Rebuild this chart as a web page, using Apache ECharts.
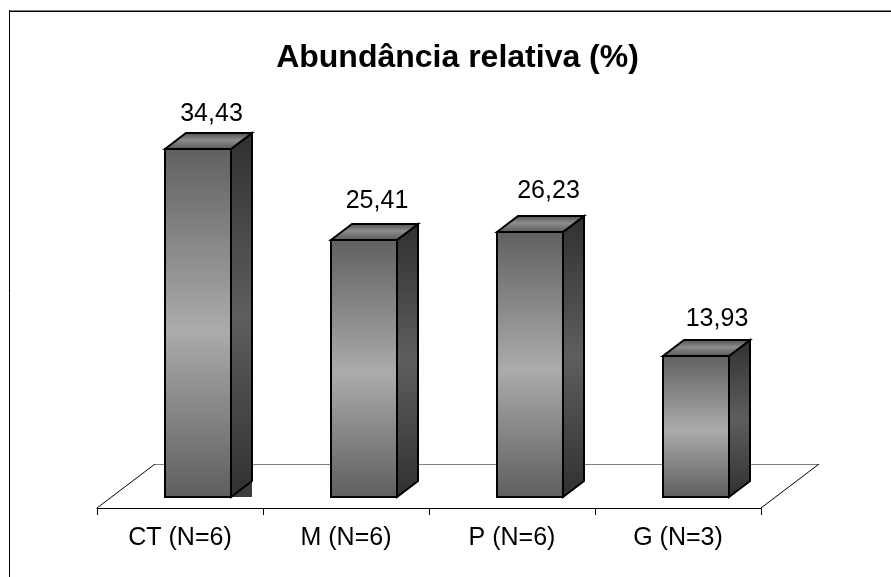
<!DOCTYPE html>
<html>
<head>
<meta charset="utf-8">
<style>html,body{margin:0;padding:0;background:#fff}#c{width:891px;height:577px}</style>
<script src="https://cdn.jsdelivr.net/npm/echarts@6/dist/echarts.min.js"></script>
</head>
<body>
<div id="c"></div>
<script>
const titleText = 'Abundância relativa (%)';
const categories = ['CT (N=6)', 'M (N=6)', 'P (N=6)', 'G (N=3)'];
const values = [34.43, 25.41, 26.23, 13.93];
const valueLabels = ['34,43', '25,41', '26,23', '13,93'];
const shadowWedge = [1, 0, 0, 0];

const FONT = '"Liberation Sans", Arial, sans-serif';
const BAR_W = 66, DEPTH_X = 21, DEPTH_Y = 16, BAR_SHIFT = 15;
const FLOOR_X = 58, FLOOR_Y = 44;

function vgrad(a, b, c, mid) {
  return {type: 'linear', x: 0, y: 0, x2: 0, y2: 1, colorStops: [
    {offset: 0, color: a}, {offset: mid, color: b}, {offset: 1, color: c}]};
}
const chart = echarts.init(document.getElementById('c'), null, {renderer: 'canvas'});

function renderFloor(params, api) {
  const cs = params.coordSys;
  const x0 = cs.x, x1 = cs.x + cs.width, y0 = cs.y + cs.height;
  const line = (a, b, c, d, color) => ({type: 'line', shape: {x1: a, y1: b, x2: c, y2: d},
    style: {stroke: color, lineWidth: 1}});
  return {type: 'group', children: [
    line(x0, y0, x0 + FLOOR_X, y0 - FLOOR_Y, '#000'),
    line(x0 + FLOOR_X, y0 - FLOOR_Y + 0.5, x1 + FLOOR_X, y0 - FLOOR_Y + 0.5, '#808080'),
    line(x1, y0, x1 + FLOOR_X, y0 - FLOOR_Y, '#000')
  ]};
}

function renderBar(params, api) {
  const i = api.value(0);
  const labelDx = [13.5, 13, 18.5, 21][i];
  const labelDy = [-34.5, -39, -41, -37][i];
  const top = api.coord([i, api.value(1)]);
  const base = api.coord([i, 0]);
  const x = Math.round(top[0] - BAR_SHIFT), w = BAR_W;
  const yT = Math.round(top[1]), yB = Math.round(base[1]);
  const border = {stroke: '#000', lineWidth: 2, lineJoin: 'miter'};
  const children = [];
  if (shadowWedge[i]) {
    children.push({type: 'polygon', shape: {points: [[x + w, yB], [x + w + DEPTH_X, yB - DEPTH_Y], [x + w + DEPTH_X, yB]]},
      style: {fill: '#3c3c3c'}});
  }
  children.push(
    {type: 'polygon', shape: {points: [[x + w, yT], [x + w + DEPTH_X, yT - DEPTH_Y], [x + w + DEPTH_X, yB - DEPTH_Y], [x + w, yB]]},
      style: Object.assign({fill: vgrad('#303030', '#5e5e5e', '#303030', 0.5)}, border)},
    {type: 'polygon', shape: {points: [[x, yT], [x + DEPTH_X, yT - DEPTH_Y], [x + w + DEPTH_X, yT - DEPTH_Y], [x + w, yT]]},
      style: Object.assign({fill: vgrad('#4c4c4c', '#8c8c8c', '#555555', 0.45)}, border)},
    {type: 'rect', shape: {x: x, y: yT, width: w, height: yB - yT},
      style: Object.assign({fill: vgrad('#606060', '#ababab', '#5e5e5e', 0.52)}, border)},
    {type: 'text', x: x + w / 2 + labelDx, y: yT + labelDy,
      style: {text: valueLabels[i], font: '25px ' + FONT, fill: '#000', align: 'center', verticalAlign: 'middle'}}
  );
  return {type: 'group', children: children};
}

chart.setOption({
  animation: false,
  backgroundColor: '#fff',
  title: {
    text: titleText, left: 452.5, top: 37, textAlign: 'center',
    textStyle: {fontFamily: FONT, fontWeight: 'bold', fontSize: 32, color: '#000'}
  },
  grid: {left: 97, right: 130, top: 92.72, bottom: 69},
  xAxis: {
    type: 'category', data: categories, position: 'bottom',
    boundaryGap: true,
    axisLine: {onZero: false, lineStyle: {color: '#000', width: 1}},
    axisTick: {show: true, length: 7, alignWithLabel: false, lineStyle: {color: '#000', width: 1}},
    axisLabel: {show: true, interval: 0, margin: 18, fontFamily: FONT, fontSize: 25, color: '#000'},
    splitLine: {show: false}
  },
  yAxis: {type: 'value', min: -1.088, max: 40, show: false, splitLine: {show: false}},
  graphic: [
    {type: 'line', silent: true, shape: {x1: 9, y1: 10.5, x2: 891, y2: 10.5}, style: {stroke: '#808080', lineWidth: 1}},
    {type: 'line', silent: true, shape: {x1: 9, y1: 11.5, x2: 891, y2: 11.5}, style: {stroke: '#000', lineWidth: 1}},
    {type: 'line', silent: true, shape: {x1: 9.5, y1: 10, x2: 9.5, y2: 577}, style: {stroke: '#000', lineWidth: 1}}
  ],
  series: [
    {type: 'custom', clip: false, silent: true, z: 1, renderItem: renderFloor, data: [[0, 0]], encode: {x: 0, y: 1}},
    {type: 'custom', clip: false, silent: true, z: 2, renderItem: renderBar,
      data: values.map((v, i) => [i, v]), encode: {x: 0, y: 1}}
  ]
});
</script>
</body>
</html>
